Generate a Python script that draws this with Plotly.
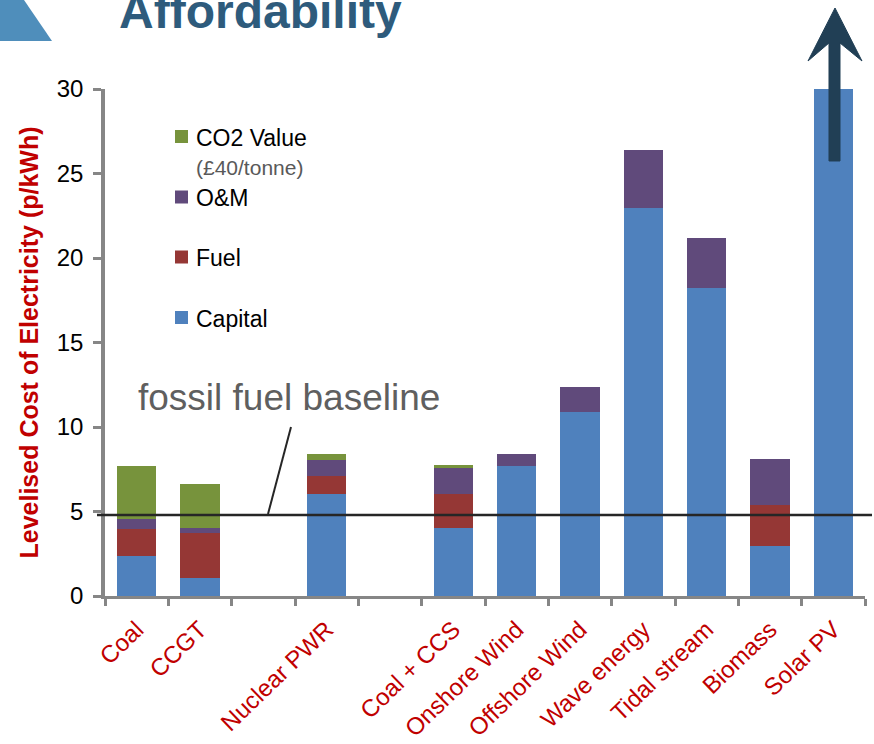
import plotly.graph_objects as go

# ---------------- data ----------------
categories = ["Coal", "CCGT", " ", "Nuclear PWR", "  ", "Coal + CCS", "Onshore Wind",
              "Offshore Wind", "Wave energy", "Tidal stream", "Biomass", "Solar PV"]
tick_labels = ["Coal", "CCGT", "", "Nuclear PWR", "", "Coal + CCS", "Onshore Wind",
               "Offshore Wind", "Wave energy", "Tidal stream", "Biomass", "Solar PV"]
capital = [2.37, 1.08, None, 6.04, None, 4.04, 7.69, 10.89, 22.98, 18.24, 2.98, 30.0]
fuel    = [1.60, 2.65, None, 1.06, None, 2.00, 0.00, 0.00, 0.00, 0.00, 2.40, 0.0]
om      = [0.60, 0.31, None, 0.95, None, 1.55, 0.71, 1.48, 3.41, 2.96, 2.74, 0.0]
co2     = [3.13, 2.59, None, 0.35, None, 0.16, 0.00, 0.00, 0.00, 0.00, 0.00, 0.0]
baseline_value = 4.8
y_ticks = [0, 5, 10, 15, 20, 25, 30]

series = [("Capital", capital, "#4F81BD"),
          ("Fuel", fuel, "#953735"),
          ("O&M", om, "#604A7B"),
          ("CO2 Value", co2, "#77933C")]

W, H = 874, 744
L, R, T, B = 105, 9, 89, 148
PW, PH = W - L - R, H - T - B
FONT = "Liberation Sans, Arial"


def px(x):
    return (x - L) / PW


def py(y):
    return (H - B - y) / PH


fig = go.Figure()
for name, vals, col in series:
    fig.add_trace(go.Bar(x=categories, y=vals, name=name, marker_color=col,
                         marker_line_width=0, showlegend=False))

shapes = []
annotations = []

# baseline
shapes.append(dict(type="line", xref="paper", yref="y", x0=px(97), x1=px(872),
                   y0=baseline_value, y1=baseline_value,
                   line=dict(color="#262626", width=2.5), layer="above"))
# pointer
shapes.append(dict(type="line", xref="paper", yref="paper", x0=px(268), y0=py(514),
                   x1=px(291), y1=py(427), line=dict(color="#262626", width=2)))
annotations.append(dict(text="fossil fuel baseline", xref="paper", yref="paper",
                        x=px(289), y=py(397), xanchor="center", yanchor="middle",
                        showarrow=False,
                        font=dict(family=FONT, size=37, color="#5F5F5F")))

# legend
leg = [("CO2 Value", "#77933C", 136.5), ("O&M", "#604A7B", 197),
       ("Fuel", "#953735", 257), ("Capital", "#4F81BD", 317.5)]
for name, col, yc in leg:
    shapes.append(dict(type="rect", xref="paper", yref="paper",
                       x0=px(175), x1=px(188), y0=py(yc - 6.5), y1=py(yc + 6.5),
                       fillcolor=col, line_width=0))
    annotations.append(dict(text=name, xref="paper", yref="paper", x=px(194),
                            y=py(yc + 1), xanchor="left", yanchor="middle",
                            showarrow=False,
                            font=dict(family=FONT, size=23, color="#000000")))
annotations.append(dict(text="(£40/tonne)", xref="paper", yref="paper", x=px(194),
                        y=py(167), xanchor="left", yanchor="middle", showarrow=False,
                        font=dict(family=FONT, size=21, color="#595959")))

# arrow
pts = [(835, 8), (862, 61), (840, 43), (840, 161), (829, 161), (829, 43), (808, 61)]
path = "M " + " L ".join(f"{px(a):.5f},{py(b):.5f}" for a, b in pts) + " Z"
shapes.append(dict(type="path", xref="paper", yref="paper", path=path,
                   fillcolor="#213F55", line=dict(color="#213F55", width=1), layer="above"))

# top-left decoration
tri = [(0, 0), (24, 0), (52, 41), (0, 41)]
path2 = "M " + " L ".join(f"{px(a):.5f},{py(b):.5f}" for a, b in tri) + " Z"
shapes.append(dict(type="path", xref="paper", yref="paper", path=path2,
                   fillcolor="#4F8EBB", line_width=0))

# title
annotations.append(dict(text="<b>Affordability</b>", xref="paper", yref="paper",
                        x=px(117), y=py(11), xanchor="left", yanchor="middle",
                        showarrow=False,
                        font=dict(family=FONT, size=48, color="#2E5B7C")))

fig.update_layout(
    width=W, height=H,
    margin=dict(l=L, r=R, t=T, b=B, pad=0, autoexpand=False),
    barmode="stack", bargap=0.38,
    paper_bgcolor="white", plot_bgcolor="white",
    shapes=shapes, annotations=annotations,
    font=dict(family=FONT),
)
fig.update_xaxes(
    categoryorder="array", categoryarray=categories,
    tickmode="array", tickvals=categories, ticktext=tick_labels,
    tickson="boundaries", ticks="outside", ticklen=7, tickwidth=3, tickcolor="#868686",
    showline=True, linecolor="#868686", linewidth=3,
    tickangle=-44, tickfont=dict(size=24, color="#C00000", family=FONT),
    ticklabelstandoff=7, automargin=False,
    showgrid=False, zeroline=False,
)
fig.update_yaxes(
    range=[0, 30], tickvals=y_ticks, ticks="outside", ticklen=8, tickwidth=3,
    tickcolor="#868686", showline=True, linecolor="#868686", linewidth=3.5,
    tickfont=dict(size=24, color="#000000", family=FONT), ticklabelstandoff=5,
    showgrid=False, zeroline=False, automargin=False,
    title=dict(text="<b>Levelised Cost of Electricity (p/kWh)</b>", standoff=12,
               font=dict(size=25, color="#C00000", family=FONT)),
)

fig.write_html("out.html", config={"displayModeBar": False},
               post_script="document.body.style.margin='0';")
